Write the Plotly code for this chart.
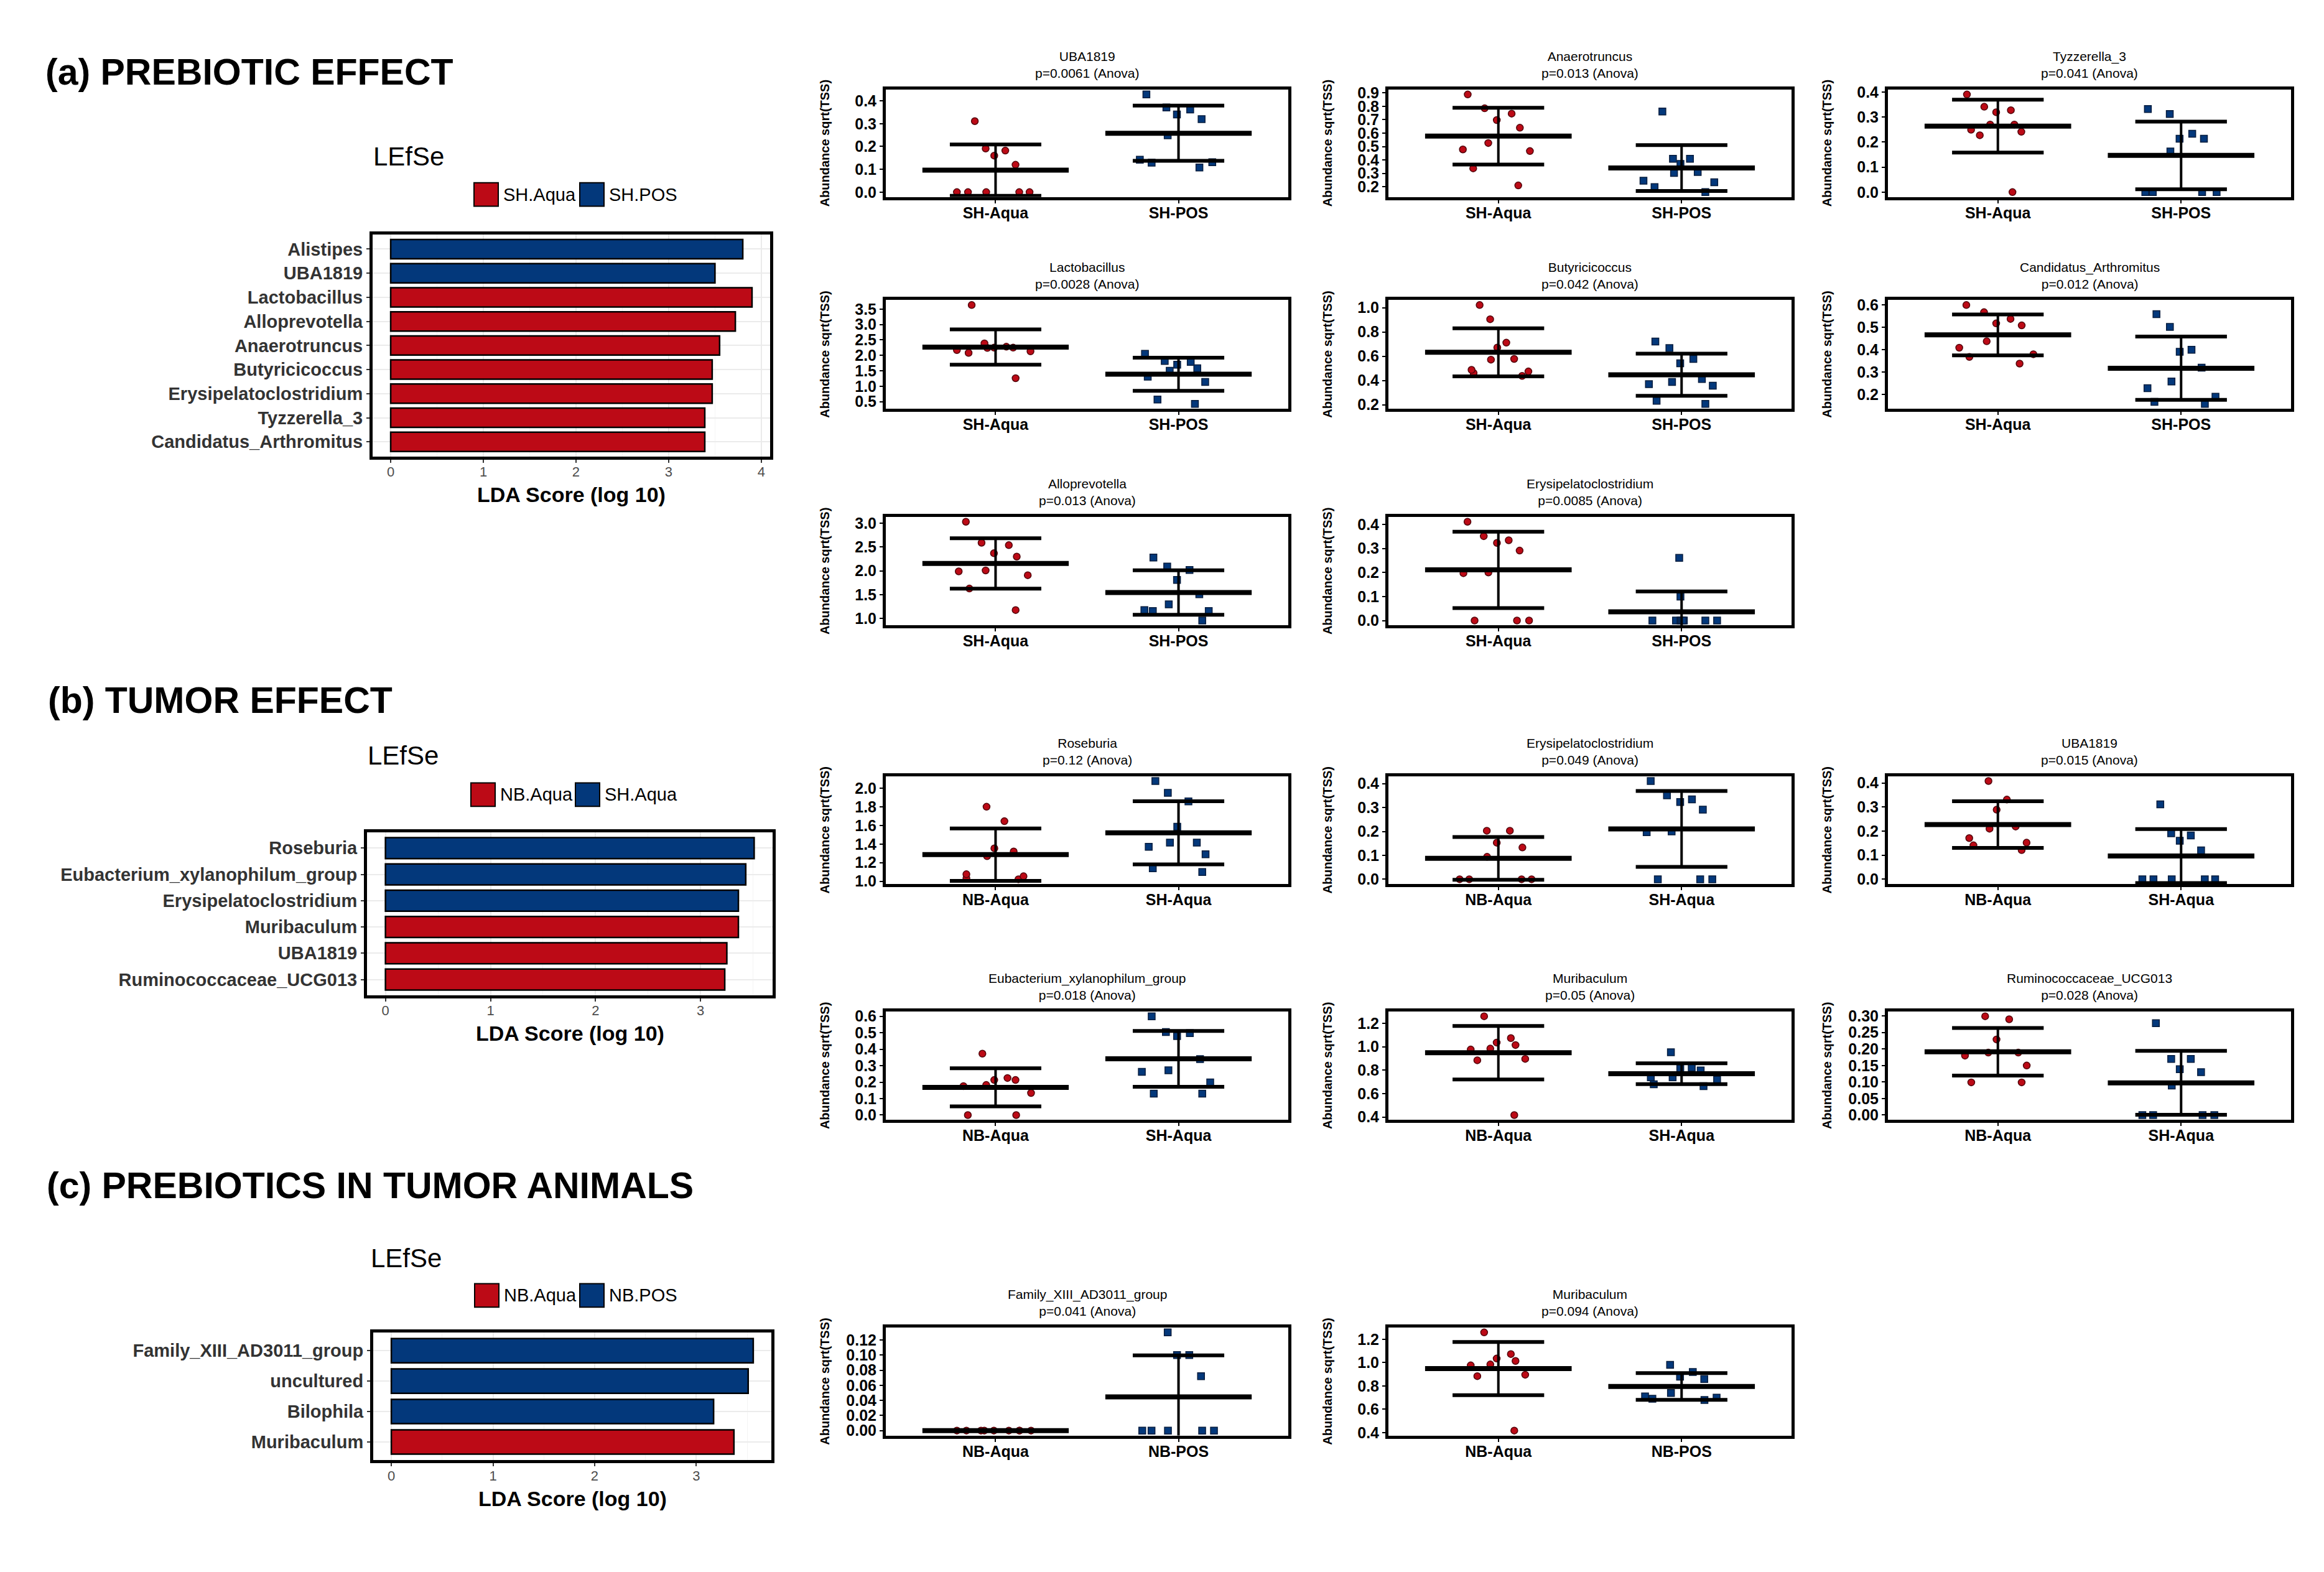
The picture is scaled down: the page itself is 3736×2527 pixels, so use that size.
import numpy as np
import plotly.graph_objects as go

W, H = 3736, 2527
FONT = "Liberation Sans, Arial, Helvetica, sans-serif"
RED, BLUE = "#BC0A16", "#03387B"
RED_EDGE, BLUE_EDGE = "#52050B", "#061C3D"

# ---------------- LEfSe bar data ----------------
lefse_a_taxa = ["Alistipes", "UBA1819", "Lactobacillus", "Alloprevotella", "Anaerotruncus",
                "Butyricicoccus", "Erysipelatoclostridium", "Tyzzerella_3", "Candidatus_Arthromitus"]
lefse_a_lda = [3.80, 3.50, 3.90, 3.72, 3.55, 3.47, 3.47, 3.39, 3.39]
lefse_a_class = ["SH.POS", "SH.POS", "SH.Aqua", "SH.Aqua", "SH.Aqua", "SH.Aqua", "SH.Aqua", "SH.Aqua", "SH.Aqua"]
lefse_a_levels = ["SH.Aqua", "SH.POS"]

lefse_b_taxa = ["Roseburia", "Eubacterium_xylanophilum_group", "Erysipelatoclostridium",
                "Muribaculum", "UBA1819", "Ruminococcaceae_UCG013"]
lefse_b_lda = [3.51, 3.43, 3.36, 3.36, 3.25, 3.23]
lefse_b_class = ["SH.Aqua", "SH.Aqua", "SH.Aqua", "NB.Aqua", "NB.Aqua", "NB.Aqua"]
lefse_b_levels = ["NB.Aqua", "SH.Aqua"]

lefse_c_taxa = ["Family_XIII_AD3011_group", "uncultured", "Bilophila", "Muribaculum"]
lefse_c_lda = [3.56, 3.51, 3.17, 3.37]
lefse_c_class = ["NB.POS", "NB.POS", "NB.POS", "NB.Aqua"]
lefse_c_levels = ["NB.Aqua", "NB.POS"]

# ---------------- abundance sqrt(TSS) per sample ----------------
groups_a = ["SH-Aqua", "SH-POS"]
groups_b = ["NB-Aqua", "SH-Aqua"]
groups_c = ["NB-Aqua", "NB-POS"]

uba1819_sh_aqua = [0.311, 0.191, 0.182, 0.160, 0.120, 0.0, 0.0, 0.0, 0.0, 0.0]
uba1819_sh_pos = [0.428, 0.371, 0.362, 0.340, 0.320, 0.249, 0.142, 0.131, 0.129, 0.108]
anaero_sh_aqua = [0.888, 0.785, 0.745, 0.697, 0.640, 0.526, 0.478, 0.466, 0.337, 0.210]
anaero_sh_pos = [0.761, 0.408, 0.408, 0.370, 0.310, 0.303, 0.245, 0.233, 0.197, 0.160]
tyzz_sh_aqua = [0.390, 0.341, 0.327, 0.319, 0.270, 0.270, 0.249, 0.241, 0.227, 0.0]
tyzz_sh_pos = [0.332, 0.312, 0.233, 0.213, 0.213, 0.162, 0.0, 0.0, 0.0, 0.0]
lacto_sh_aqua = [3.63, 2.39, 2.28, 2.25, 2.25, 2.24, 2.17, 2.13, 2.08, 1.26]
lacto_sh_pos = [2.05, 1.82, 1.79, 1.70, 1.58, 1.50, 1.31, 1.14, 0.57, 0.43]
butyr_sh_aqua = [1.022, 0.905, 0.712, 0.672, 0.578, 0.572, 0.488, 0.475, 0.462, 0.438]
butyr_sh_pos = [0.722, 0.667, 0.578, 0.542, 0.412, 0.388, 0.370, 0.358, 0.233, 0.208]
candid_sh_aqua = [0.600, 0.568, 0.538, 0.518, 0.509, 0.438, 0.409, 0.380, 0.368, 0.338]
candid_sh_pos = [0.559, 0.502, 0.400, 0.391, 0.320, 0.258, 0.228, 0.190, 0.167, 0.158]
allo_sh_aqua = [3.03, 2.59, 2.54, 2.37, 2.30, 2.01, 1.99, 1.91, 1.63, 1.18]
allo_sh_pos = [2.28, 2.09, 2.02, 1.81, 1.51, 1.30, 1.18, 1.16, 1.16, 0.96]
erysi_sh_aqua = [0.411, 0.351, 0.334, 0.323, 0.291, 0.200, 0.197, 0.0, 0.0, 0.0]
erysi_sh_pos = [0.261, 0.100, 0.0, 0.0, 0.0, 0.0, 0.0, 0.0, 0.0, 0.0]

rose_nb_aqua = [1.800, 1.645, 1.354, 1.320, 1.270, 1.076, 1.054, 1.033, 1.022]
rose_sh_aqua = [2.076, 1.950, 1.858, 1.585, 1.415, 1.415, 1.370, 1.290, 1.140, 1.100]
erysi_nb_aqua = [0.203, 0.203, 0.153, 0.133, 0.094, 0.0, 0.0, 0.0, 0.0]
uba1819_nb_aqua = [0.408, 0.331, 0.289, 0.219, 0.210, 0.171, 0.152, 0.141, 0.121]
eubac_nb_aqua = [0.373, 0.225, 0.213, 0.213, 0.183, 0.176, 0.134, 0.0, 0.0]
eubac_sh_aqua = [0.600, 0.504, 0.498, 0.480, 0.340, 0.272, 0.263, 0.198, 0.130, 0.130]
murib_nb_aqua = [1.259, 1.073, 1.035, 1.014, 0.984, 0.976, 0.896, 0.884, 0.417]
murib_sh_aqua = [0.953, 0.823, 0.814, 0.797, 0.739, 0.739, 0.718, 0.680, 0.663]
rumino_nb_aqua = [0.299, 0.290, 0.229, 0.189, 0.189, 0.180, 0.150, 0.099, 0.099]
rumino_sh_aqua = [0.278, 0.170, 0.170, 0.139, 0.130, 0.0895, 0.0, 0.0, 0.0, 0.0]

famxiii_nb_aqua = [0.0, 0.0, 0.0, 0.0, 0.0, 0.0, 0.0, 0.0, 0.0]
famxiii_nb_pos = [0.130, 0.100, 0.100, 0.072, 0.0, 0.0, 0.0, 0.0, 0.0]
murib_nb_pos = [0.98, 0.92, 0.88, 0.86, 0.74, 0.71, 0.70, 0.69, 0.68]

panels = [
    dict(taxon="UBA1819", p="0.0061", groups=groups_a, g1=uba1819_sh_aqua, g2=uba1819_sh_pos, dtick=0.1, fmt=".1f"),
    dict(taxon="Anaerotruncus", p="0.013", groups=groups_a, g1=anaero_sh_aqua, g2=anaero_sh_pos, dtick=0.1, fmt=".1f"),
    dict(taxon="Tyzzerella_3", p="0.041", groups=groups_a, g1=tyzz_sh_aqua, g2=tyzz_sh_pos, dtick=0.1, fmt=".1f"),
    dict(taxon="Lactobacillus", p="0.0028", groups=groups_a, g1=lacto_sh_aqua, g2=lacto_sh_pos, dtick=0.5, fmt=".1f"),
    dict(taxon="Butyricicoccus", p="0.042", groups=groups_a, g1=butyr_sh_aqua, g2=butyr_sh_pos, dtick=0.2, fmt=".1f"),
    dict(taxon="Candidatus_Arthromitus", p="0.012", groups=groups_a, g1=candid_sh_aqua, g2=candid_sh_pos, dtick=0.1, fmt=".1f"),
    dict(taxon="Alloprevotella", p="0.013", groups=groups_a, g1=allo_sh_aqua, g2=allo_sh_pos, dtick=0.5, fmt=".1f"),
    dict(taxon="Erysipelatoclostridium", p="0.0085", groups=groups_a, g1=erysi_sh_aqua, g2=erysi_sh_pos, dtick=0.1, fmt=".1f"),
    dict(taxon="Roseburia", p="0.12", groups=groups_b, g1=rose_nb_aqua, g2=rose_sh_aqua, dtick=0.2, fmt=".1f"),
    dict(taxon="Erysipelatoclostridium", p="0.049", groups=groups_b, g1=erysi_nb_aqua, g2=erysi_sh_aqua, dtick=0.1, fmt=".1f"),
    dict(taxon="UBA1819", p="0.015", groups=groups_b, g1=uba1819_nb_aqua, g2=uba1819_sh_aqua, dtick=0.1, fmt=".1f"),
    dict(taxon="Eubacterium_xylanophilum_group", p="0.018", groups=groups_b, g1=eubac_nb_aqua, g2=eubac_sh_aqua, dtick=0.1, fmt=".1f"),
    dict(taxon="Muribaculum", p="0.05", groups=groups_b, g1=murib_nb_aqua, g2=murib_sh_aqua, dtick=0.2, fmt=".1f"),
    dict(taxon="Ruminococcaceae_UCG013", p="0.028", groups=groups_b, g1=rumino_nb_aqua, g2=rumino_sh_aqua, dtick=0.05, fmt=".2f"),
    dict(taxon="Family_XIII_AD3011_group", p="0.041", groups=groups_c, g1=famxiii_nb_aqua, g2=famxiii_nb_pos, dtick=0.02, fmt=".2f"),
    dict(taxon="Muribaculum", p="0.094", groups=groups_c, g1=murib_nb_aqua, g2=murib_nb_pos, dtick=0.2, fmt=".1f"),
]

bars = [
    dict(taxa=lefse_a_taxa, lda=lefse_a_lda, cls=lefse_a_class, levels=lefse_a_levels),
    dict(taxa=lefse_b_taxa, lda=lefse_b_lda, cls=lefse_b_class, levels=lefse_b_levels),
    dict(taxa=lefse_c_taxa, lda=lefse_c_lda, cls=lefse_c_class, levels=lefse_c_levels),
]
section_titles = ["(a) PREBIOTIC EFFECT", "(b) TUMOR EFFECT", "(c) PREBIOTICS IN TUMOR ANIMALS"]

# ---------------- layout geometry (pixels) ----------------
COLS = [(1424, 2071), (2232, 2880), (3035, 3683)]
ROWS = {"a1": (135, 309), "a2": (476, 652), "a3": (827, 1003),
        "b1": (1247, 1422), "b2": (1628, 1804), "c1": (2140, 2315)}
PLACE = [("a1", 0), ("a1", 1), ("a1", 2), ("a2", 0), ("a2", 1), ("a2", 2), ("a3", 0), ("a3", 1),
         ("b1", 0), ("b1", 1), ("b1", 2), ("b2", 0), ("b2", 1), ("b2", 2), ("c1", 0), ("c1", 1)]
BAR_BOX = [((599, 1238), (370, 729)), ((590, 1242), (1338, 1602)), ((600, 1240), (2148, 2355))]
SEC_TITLE_POS = [(71, 107), (75, 1124), (73, 1910)]
LEFSE_POS = [(657, 243), (648, 1214), (653, 2028)]
LEG_POS = [((762, 932), 305), ((757, 925), 1277), ((763, 932), 2088)]


def px(x):
    return x / W


def py(y):
    return 1 - y / H


def axn(k):
    s = "" if k == 1 else str(k)
    return "xaxis" + s, "yaxis" + s, "x" + s, "y" + s


fig = go.Figure()
lay = {}
ann = []
shapes = []
k = 0

# ---------------- scatter panels ----------------
for spec, (row, col) in zip(panels, PLACE):
    k += 1
    xa, ya, xr, yr = axn(k)
    x0, x1 = COLS[col]
    y0, y1 = ROWS[row]
    allv = np.array(spec["g1"] + spec["g2"], dtype=float)
    lo, hi = allv.min(), allv.max()
    pad = 0.05 * (hi - lo)
    lay[xa] = dict(domain=[px(x0), px(x1)], anchor=yr, type="linear", range=[0.4, 2.6],
                   tickmode="array", tickvals=[1, 2], ticktext=spec["groups"],
                   ticks="outside", ticklen=5, tickwidth=2, tickcolor="black",
                   ticklabelstandoff=-6,
                   showline=True, mirror=True, linewidth=5, linecolor="black",
                   showgrid=False, zeroline=False,
                   tickfont=dict(size=25, color="black", family=FONT, weight="bold"))
    lay[ya] = dict(domain=[py(y1), py(y0)], anchor=xr, range=[lo - pad, hi + pad],
                   tick0=0, dtick=spec["dtick"], tickformat=spec["fmt"],
                   ticks="outside", ticklen=5, tickwidth=2, tickcolor="black",
                   showline=True, mirror=True, linewidth=5, linecolor="black",
                   showgrid=False, zeroline=False,
                   tickfont=dict(size=25, color="black", family=FONT, weight="bold"))
    for gi, vals in enumerate([spec["g1"], spec["g2"]]):
        v = np.array(vals, dtype=float)
        pos = gi + 1
        m = v.mean()
        s = v.std(ddof=1)
        fig.add_trace(go.Scatter(x=[pos, pos], y=[m - s, m + s], mode="lines",
                                 line=dict(color="black", width=4), xaxis=xr, yaxis=yr,
                                 hoverinfo="skip", showlegend=False))
        fig.add_trace(go.Scatter(x=[pos - 0.25, pos + 0.25, None, pos - 0.25, pos + 0.25],
                                 y=[m + s, m + s, None, m - s, m - s], mode="lines",
                                 line=dict(color="black", width=6), xaxis=xr, yaxis=yr,
                                 hoverinfo="skip", showlegend=False))
        fig.add_trace(go.Scatter(x=[pos - 0.4, pos + 0.4], y=[m, m], mode="lines",
                                 line=dict(color="black", width=8), xaxis=xr, yaxis=yr,
                                 hoverinfo="skip", showlegend=False))
        fig.add_trace(go.Box(x=[pos] * len(v), y=v, boxpoints="all", jitter=1, pointpos=0,
                             width=0.5, whiskerwidth=0, fillcolor="rgba(0,0,0,0)",
                             line=dict(color="rgba(0,0,0,0)", width=0),
                             marker=dict(color=RED if gi == 0 else BLUE,
                                         symbol="circle" if gi == 0 else "square",
                                         size=11,
                                         line=dict(color=RED_EDGE if gi == 0 else BLUE_EDGE, width=1.5)),
                             xaxis=xr, yaxis=yr, showlegend=False, name=spec["groups"][gi]))
    ann.append(dict(x=px((x0 + x1) / 2), y=py(y0 - 40), xref="paper", yref="paper",
                    text=f"{spec['taxon']}<br>p={spec['p']} (Anova)", showarrow=False,
                    xanchor="center", yanchor="middle",
                    font=dict(size=21, color="black", family=FONT)))
    ann.append(dict(x=px(x0 - 98), y=py((y0 + y1) / 2), xref="paper", yref="paper",
                    text="Abundance sqrt(TSS)", showarrow=False, textangle=-90,
                    xanchor="center", yanchor="middle",
                    font=dict(size=20, color="black", family=FONT, weight="bold")))

# ---------------- LEfSe bar panels ----------------
for bi, spec in enumerate(bars):
    k += 1
    xa, ya, xr, yr = axn(k)
    (x0, x1), (y0, y1) = BAR_BOX[bi]
    n = len(spec["taxa"])
    mx = max(spec["lda"])
    colors = [RED if c == spec["levels"][0] else BLUE for c in spec["cls"]]
    fig.add_trace(go.Bar(x=spec["lda"], y=spec["taxa"], orientation="h", width=0.8,
                         marker=dict(color=colors, line=dict(color="black", width=2.5)),
                         xaxis=xr, yaxis=yr, showlegend=False))
    lay[xa] = dict(domain=[px(x0), px(x1)], anchor=yr, range=[-0.05 * mx, 1.05 * mx],
                   tick0=0, dtick=1, ticks="outside", ticklen=5, tickwidth=2, tickcolor="#333333",
                   ticklabelstandoff=-4,
                   showline=True, mirror=True, linewidth=5, linecolor="black",
                   showgrid=True, gridcolor="#EBEBEB", gridwidth=2, zeroline=False,
                   minor=dict(showgrid=True, gridcolor="#F4F4F4", gridwidth=1, dtick=0.5, tick0=0),
                   tickfont=dict(size=22, color="#4D4D4D", family=FONT))
    lay[ya] = dict(domain=[py(y1), py(y0)], anchor=xr, type="category",
                   categoryorder="array", categoryarray=spec["taxa"],
                   tickmode="array", tickvals=spec["taxa"],
                   range=[n - 0.4, -0.6], ticks="outside", ticklen=5, tickwidth=2, tickcolor="#333333",
                   showline=True, mirror=True, linewidth=5, linecolor="black",
                   showgrid=True, gridcolor="#EBEBEB", gridwidth=2, zeroline=False,
                   tickfont=dict(size=29, color="#333333", family=FONT, weight="bold"))
    ann.append(dict(x=px((x0 + x1) / 2), y=py(y1 + 62), xref="paper", yref="paper",
                    text="LDA Score (log 10)", showarrow=False, xanchor="center", yanchor="middle",
                    font=dict(size=34, color="black", family=FONT, weight="bold")))
    lx, ly = LEFSE_POS[bi]
    ann.append(dict(x=px(lx), y=py(ly), xref="paper", yref="paper", text="LEfSe",
                    showarrow=False, xanchor="center", yanchor="middle",
                    font=dict(size=42, color="black", family=FONT)))
    tx, tyy = SEC_TITLE_POS[bi]
    ann.append(dict(x=px(tx), y=py(tyy), xref="paper", yref="paper", text=section_titles[bi],
                    showarrow=False, xanchor="left", yanchor="middle",
                    font=dict(size=59, color="black", family=FONT, weight="bold")))
    (kx1, kx2), kyc = LEG_POS[bi]
    for lvl, kx, colr in zip(spec["levels"], (kx1, kx2), (RED, BLUE)):
        shapes.append(dict(type="rect", xref="paper", yref="paper",
                           x0=px(kx), x1=px(kx + 39), y0=py(kyc + 19), y1=py(kyc - 19),
                           fillcolor=colr, line=dict(color="black", width=2)))
        ann.append(dict(x=px(kx + 45), y=py(kyc), xref="paper", yref="paper", text=lvl,
                        showarrow=False, xanchor="left", yanchor="middle",
                        font=dict(size=29, color="black", family=FONT)))

fig.update_layout(width=W, height=H, autosize=False, margin=dict(l=0, r=0, t=0, b=0),
                  paper_bgcolor="white", plot_bgcolor="white", showlegend=False,
                  font=dict(family=FONT, color="black"), annotations=ann, shapes=shapes,
                  boxmode="overlay", **lay)
fig.write_html("out.html", post_script="document.body.style.margin='0px';",
               config={"displayModeBar": False})
